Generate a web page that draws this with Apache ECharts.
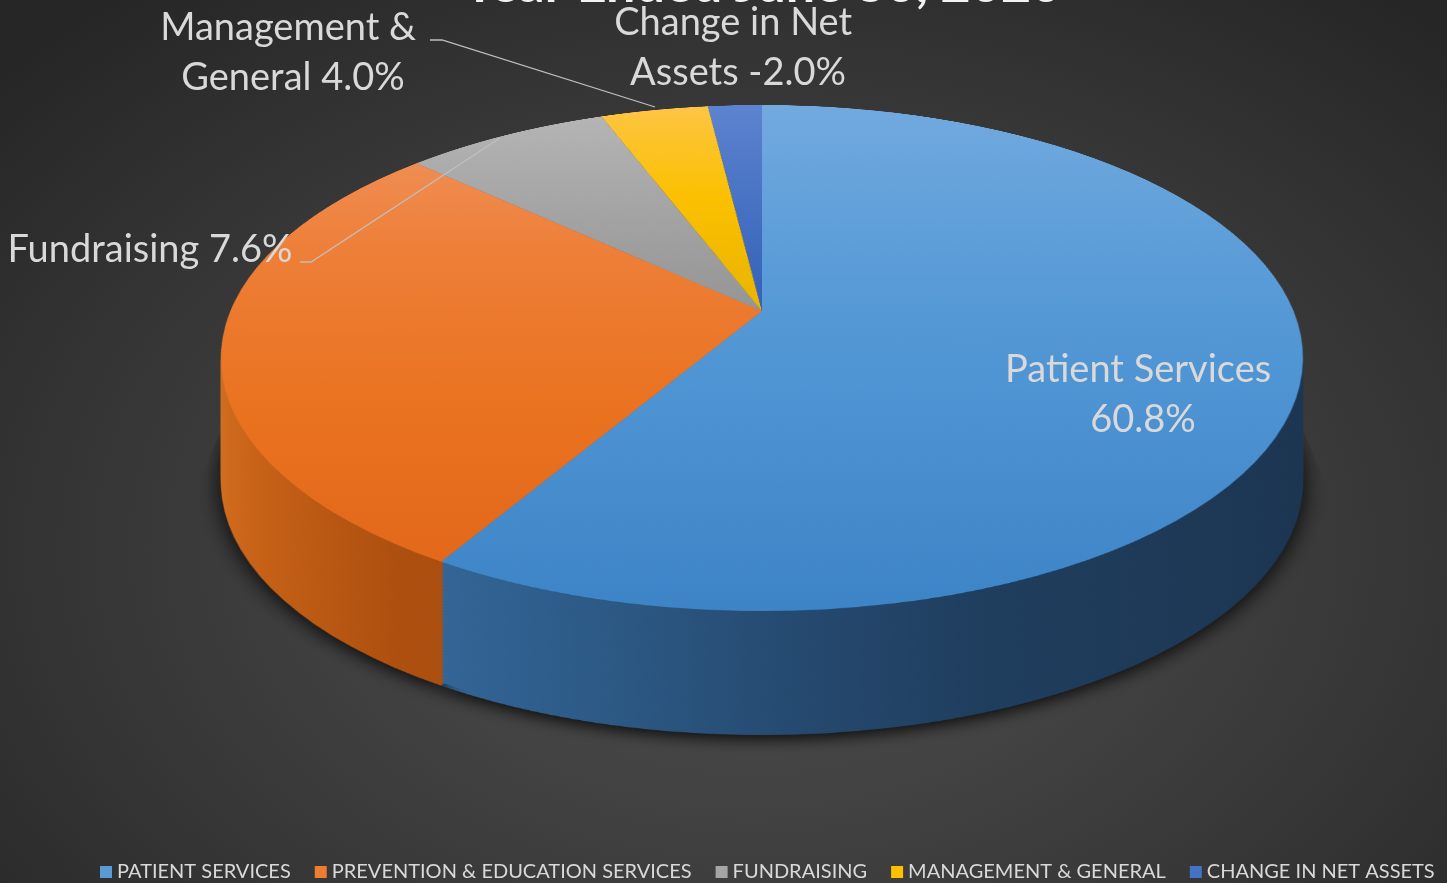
<!DOCTYPE html>
<html>
<head>
<meta charset="utf-8">
<script src="https://cdn.jsdelivr.net/npm/echarts@6/dist/echarts.min.js"></script>
<style>
html,body{margin:0;padding:0;width:1447px;height:883px;overflow:hidden;}
body{background: radial-gradient(ellipse 70% 80% at 52% 62%, #4b4b4b 0%, #434343 35%, #343434 70%, #262626 100%);}
.plane{position:absolute;left:0;top:0;transform-origin:0 0;}
#over{position:absolute;left:0;top:0;width:1447px;height:883px;}
</style>
</head>
<body>
<div id="stack"></div>
<div id="over"></div>
<script>
// ---- data ----
const titleText = 'Year Ended June 30, 2020';
const categories = ['Patient Services', 'Prevention & Education Services', 'Fundraising', 'Management & General', 'Change in Net Assets'];
const values = [60.8, 29.6, 7.6, 4.0, -2.0];   // share of the net total, %
const showLabel = [true, false, true, true, true];

// ---- styles ----
const baseColors = ['#5b9bd5', '#ed7d31', '#a5a5a5', '#ffc000', '#4472c4'];
const topStops = [
  [[0, '#72aadf'], [0.5, '#5599d6'], [0.8, '#488ecf'], [1, '#3d84c6']],
  [[0, '#f39a63'], [0.16, '#f08d52'], [0.37, '#ee7f38'], [0.7, '#e9721f'], [0.93, '#e3681b'], [1, '#e0641a']],
  [[0, '#b7b7b7'], [0.5, '#959595'], [1, '#8a8a8a']],
  [[0, '#fdc546'], [0.25, '#fbc000'], [0.5, '#e9b400'], [1, '#d9a600']],
  [[0, '#5d84d0'], [0.5, '#3461b8'], [1, '#2e58aa']]
];
const sideStops = [
  [[0, '#3d77ae'], [0.2, '#35699c'], [0.38, '#2c5985'], [0.53, '#25496f'], [0.68, '#1f3d5d'], [0.85, '#1d3956'], [1, '#1b3450']],
  [[0, '#d46f20'], [0.075, '#c66116'], [0.21, '#ad4f0f'], [1, '#8a3f0c']],
  [[0, '#7a7a7a'], [1, '#5a5a5a']],
  [[0, '#b88c00'], [1, '#8f6d00']],
  [[0, '#35599c'], [1, '#27427a']]
];

// ---- perspective of the disc (screen geometry) ----
const CX = 762;        // screen x of the pie centre
const V = 311;         // screen y of the pie centre (vertex)
const P = 186.5;       // vertical spread
const TILT = -0.1858;  // perspective strength
const A = 531.6;       // horizontal spread
const R = 541;         // pie radius in its own plane
const M = 12;
const DEPTH = 124;     // thickness on screen
const LAYERS = 40;

const absVals = values.map(Math.abs);
const netTotal = values.reduce((s, v) => s + v, 0);
const pct = values.map(v => (v / netTotal * 100).toFixed(1) + '%');

function planeMatrix(cu, cv, dy) {
  const w0 = 1 - TILT * cv / R;
  const m = [
    A / R, 0, 0, 0,
    CX * TILT / R, (P + dy * TILT) / R, 0, TILT / R,
    0, 0, 1, 0,
    CX * w0 - A * cu / R, V - P * cv / R + dy * w0, 0, w0
  ];
  return 'matrix3d(' + m.map(x => x.toFixed(8)).join(',') + ')';
}
function linGrad(stops, x, y, x2, y2) {
  return { type: 'linear', x, y, x2, y2, global: true,
    colorStops: stops.map(s => ({ offset: s[0], color: s[1] })) };
}
function makePlane(w, h, cu, cv, dy) {
  const el = document.createElement('div');
  el.className = 'plane';
  el.style.width = w + 'px';
  el.style.height = h + 'px';
  el.style.transform = planeMatrix(cu, cv, dy);
  document.getElementById('stack').appendChild(el);
  return echarts.init(el, null, { renderer: 'canvas', devicePixelRatio: 1 });
}
function pieSeries(cu, cv, colorFor, extra) {
  return {
    type: 'pie', silent: true, animation: false,
    center: [cu, cv], radius: R, startAngle: 90, clockwise: true,
    label: { show: false }, labelLine: { show: false },
    emphasis: { disabled: true },
    data: categories.map((c, i) => ({
      name: c, value: absVals[i],
      itemStyle: Object.assign({ color: colorFor(i), borderWidth: 0 }, extra || {})
    }))
  };
}

// side wall: the disc repeated downwards, deepest first
const W = 2 * R + 2 * M;
const sideCu = R + M, sideCv = Math.round(0.22 * R);
const sideH = sideCv + R + 40;
for (let j = 0; j < LAYERS; j++) {
  const dy = DEPTH * (LAYERS - j) / LAYERS;
  const ch = makePlane(W, sideH, sideCu, sideCv, dy);
  const shadow = j === 0 ? { shadowBlur: 22, shadowColor: 'rgba(0,0,0,0.85)', shadowOffsetY: 6 } : null;
  ch.setOption({ animation: false, series: [pieSeries(sideCu, sideCv,
    i => linGrad(sideStops[i], sideCu - R, 0, sideCu + R, 0), shadow)] });
}
// top face
const topCu = R + M, topCv = R + M;
const topChart = makePlane(W, 2 * R + 2 * M, topCu, topCv, 0);
topChart.setOption({ animation: false, series: [pieSeries(topCu, topCv,
  i => linGrad(topStops[i], 0, topCv - R, 0, topCv + R))] });

// ---- overlay: title, labels, legend ----
const labelPlace = {
  0: { x: 1143, y: 395, width: 300 },
  2: { x: 150, y: 250, line: [[500, 138], [311, 262], [300, 262]] },
  3: { x: 293, y: 53, width: 278, line: [[655, 107], [442, 40], [430, 40]] },
  4: { x: 738, y: 48, width: 256 }
};
const FONT = 'Lato, "Open Sans", sans-serif';
const over = echarts.init(document.getElementById('over'), null, { renderer: 'canvas' });
over.setOption({
  animation: false,
  title: {
    text: titleText, left: 757, textAlign: 'center', top: -46,
    textStyle: { color: '#f2f2f2', fontSize: 52, fontWeight: 'bold', fontFamily: FONT }
  },
  legend: {
    top: 862, left: 100, padding: 0, icon: 'rect', itemWidth: 12, itemHeight: 12, itemGap: 24,
    textStyle: { color: '#d9d9d9', fontSize: 20, fontFamily: FONT },
    formatter: n => n.toUpperCase(),
    data: categories.map((c, i) => ({ name: c, itemStyle: { color: baseColors[i], opacity: 1 } }))
  },
  series: [{
    type: 'pie', animation: false, silent: true,
    center: [CX, V], radius: 100, startAngle: 90,
    avoidLabelOverlap: false,
    emphasis: { disabled: true },
    data: categories.map((c, i) => {
      const p = labelPlace[i] || {};
      return {
        name: c, value: absVals[i],
        itemStyle: { color: 'rgba(0,0,0,0)' },
        label: Object.assign({ show: showLabel[i] }, p.width ? { width: p.width, overflow: 'break' } : {}),
        labelLine: { show: !!p.line }
      };
    }),
    label: {
      position: 'outside',
      formatter: params => params.name + ' ' + pct[params.dataIndex],
      color: '#d9d9d9', fontSize: 38, lineHeight: 50, fontFamily: FONT, align: 'center'
    },
    labelLine: { lineStyle: { color: '#bfbfbf', width: 1.3 } },
    labelLayout: params => {
      const p = labelPlace[params.dataIndex];
      if (!p) return {};
      const o = { x: p.x, y: p.y, align: 'center', verticalAlign: 'middle' };
      if (p.line) o.labelLinePoints = p.line;
      return o;
    }
  }]
});
</script>
</body>
</html>
